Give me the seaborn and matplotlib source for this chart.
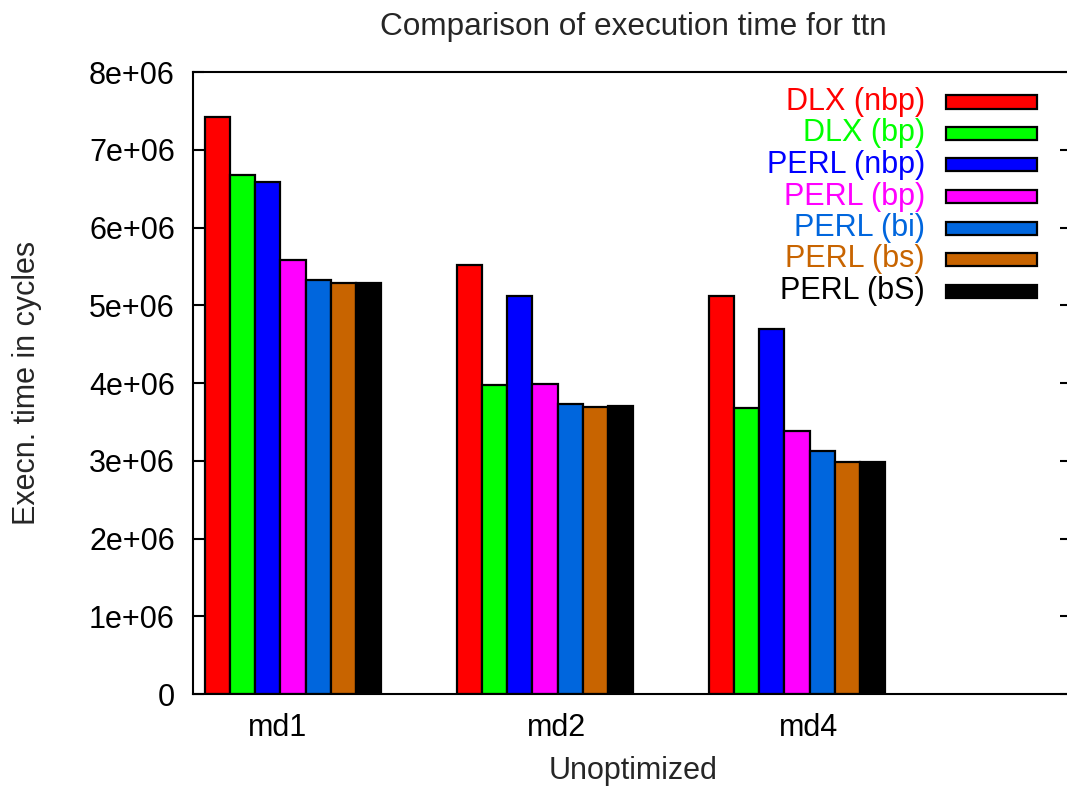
import matplotlib
matplotlib.use("Agg")
import matplotlib.pyplot as plt
from matplotlib.patches import Rectangle
import seaborn as sns
import pandas as pd

# Execution time (cycles) for each benchmark variant
groups = ["md1", "md2", "md4"]
series = ["DLX (nbp)", "DLX (bp)", "PERL (nbp)", "PERL (bp)",
          "PERL (bi)", "PERL (bs)", "PERL (bS)"]
dlx_nbp = [7.42e6, 5.52e6, 5.12e6]
dlx_bp = [6.67e6, 3.98e6, 3.68e6]
perl_nbp = [6.58e6, 5.12e6, 4.69e6]
perl_bp = [5.58e6, 3.99e6, 3.38e6]
perl_bi = [5.32e6, 3.73e6, 3.13e6]
perl_bs = [5.29e6, 3.69e6, 2.98e6]
perl_bS = [5.29e6, 3.70e6, 2.99e6]
colors = ["#ff0000", "#00ff00", "#0000ff", "#ff00ff",
          "#0066dd", "#c86400", "#000000"]
yticks = [0, 1e6, 2e6, 3e6, 4e6, 5e6, 6e6, 7e6, 8e6]
ytick_labels = ["0", "1e+06", "2e+06", "3e+06", "4e+06",
                "5e+06", "6e+06", "7e+06", "8e+06"]

values = [dlx_nbp, dlx_bp, perl_nbp, perl_bp, perl_bi, perl_bs, perl_bS]
rows = []
for name, vals in zip(series, values):
    for g, v in zip(groups, vals):
        rows.append({"group": g, "series": name, "cycles": v})
df = pd.DataFrame(rows)

sns.set_theme(style="white")
plt.rcParams['font.family'] = ['Liberation Sans', 'DejaVu Sans']
FS = 22

W, H = 1067, 789
# plot frame runs slightly past the right edge of the canvas
fig = plt.figure(figsize=(W / 100, H / 100), dpi=100)
ax = fig.add_axes([193 / W, 1 - 694 / H, (1071 - 193) / W, (694 - 72) / H])

sns.barplot(data=df, x="group", y="cycles", hue="series", order=groups,
            hue_order=series, palette=dict(zip(series, colors)),
            width=0.7, gap=0, edgecolor="black", linewidth=1.6,
            saturation=1, legend=False, ax=ax)

ax.set_xlim(-0.397, 3.087)
ax.set_ylim(0, 8e6)
ax.set_yticks(yticks)
ax.set_yticklabels(ytick_labels)
# category labels sit a little off the group centres
ax.set_xticks([-0.06, 1.046, 2.044])
ax.set_xticklabels(groups)
ax.set_xlabel("")
ax.set_ylabel("")
ax.tick_params(axis="y", direction="in", length=8, width=1.5,
               left=True, right=True, labelsize=FS, pad=13, colors="black")
ax.tick_params(axis="x", length=0, labelsize=FS, pad=14, colors="black")
for sp in ax.spines.values():
    sp.set_visible(True)
    sp.set_color("black")
    sp.set_linewidth(1.5)

# Key: coloured labels on the left, swatches on the right
AW, AH = 1071 - 193, 694 - 72
x_text = (925 - 193) / AW
x_box = (946 - 193) / AW
box_w = 91 / AW
box_h = 13 / AH
for i, (name, c) in enumerate(zip(series, colors)):
    yc = (694 - (102 + 31.5 * i)) / AH
    ax.text(x_text, yc, name, transform=ax.transAxes, ha="right",
            va="center", fontsize=FS, color=c)
    ax.add_patch(Rectangle((x_box, yc - box_h / 2), box_w, box_h,
                           transform=ax.transAxes, facecolor=c,
                           edgecolor="black", linewidth=1.6, clip_on=False))

fig.text(633 / W, 1 - 27 / H, "Comparison of execution time for ttn",
         ha="center", va="center", fontsize=22.7)
fig.text(633 / W, 1 - 771 / H, "Unoptimized", ha="center", va="center",
         fontsize=FS)
fig.text(27 / W, 1 - 383 / H, "Execn. time in cycles", ha="center",
         va="center", rotation=90, fontsize=FS)

fig.savefig("out.png", dpi=100, facecolor="white")
